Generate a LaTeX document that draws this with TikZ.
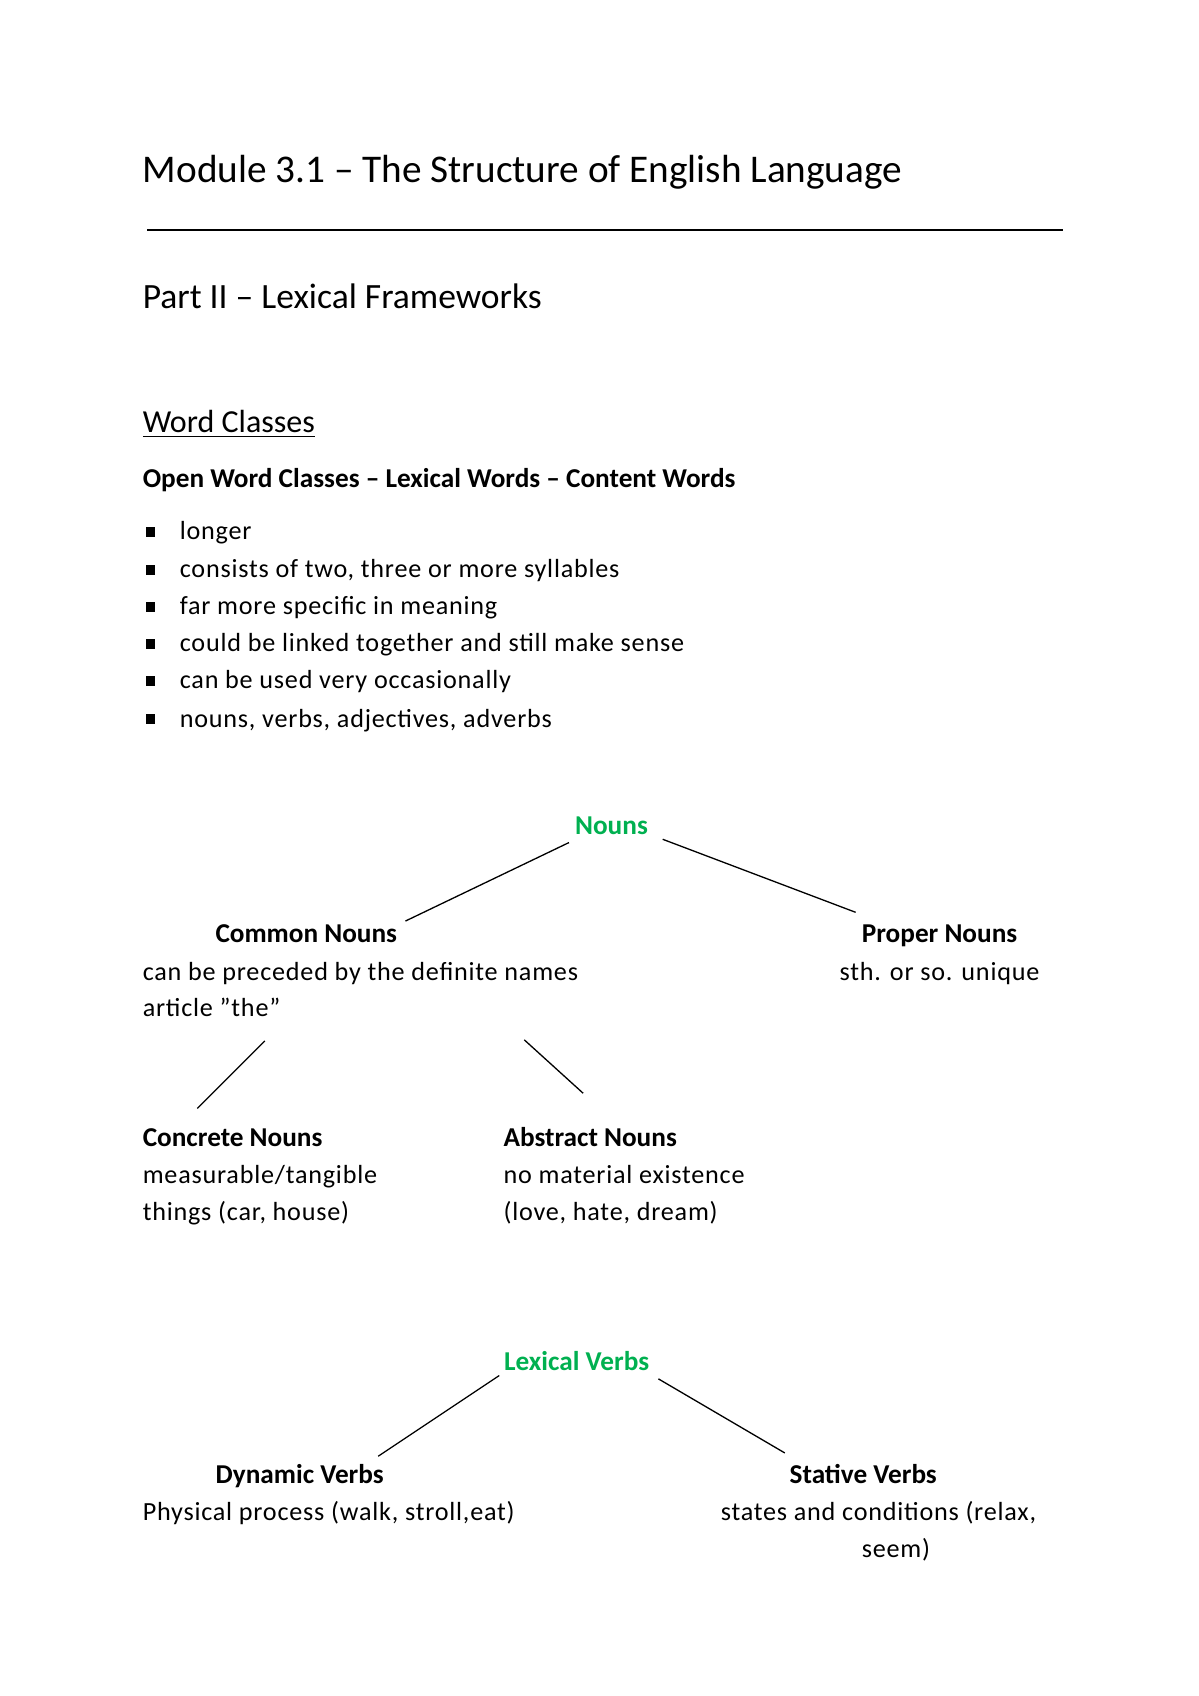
\documentclass[tikz,border=0pt]{standalone}
\usepackage{fontspec}
\setmainfont{Carlito}
\newfontfamily\spaced[LetterSpace=3]{Carlito}
\usepackage{xcolor}
\definecolor{grn}{HTML}{00B050}
\begin{document}
\begin{tikzpicture}[x=0.5pt,y=-0.5pt,
  every node/.style={inner sep=0pt,outer sep=0pt},
  body/.style={font=\spaced\fontsize{12}{14}\selectfont,anchor=base},
  bodyl/.style={body,anchor=base west},
  head/.style={font=\fontsize{12.5}{14}\selectfont\bfseries,anchor=base},
  grnhead/.style={head,text=grn},
  conn/.style={line width=0.6pt}]
\useasboundingbox (0,0) rectangle (1100,1556);
\node[anchor=base west,font=\fontsize{18}{20}\selectfont] (title) at (131,167) {Module 3.1 – The Structure of English Language};
\coordinate (r1) at (135,211); \coordinate (r2) at (975,211);
\draw[line width=0.6pt] (r1) -- (r2);
\node[anchor=base west,font=\fontsize{16.3}{18}\selectfont] (part) at (131,283) {Part II – Lexical Frameworks};
\node[anchor=base west,font=\fontsize{14.7}{16}\selectfont] (wc) at (131,397) {\underline{Word Classes}};
\node[head,anchor=base west] (owc) at (131,447) {Open Word Classes – Lexical Words – Content Words};
\foreach \y/\t [count=\i] in {488/longer,523/{consists of two, three or more syllables},557/far more specific in meaning,591/could be linked together and still make sense,625/can be used very occasionally,660/{nouns, verbs, adjectives, adverbs}}{
  \node[fill=black,minimum size=4.5pt] (b\i) at (138,\y) {};
  \node[bodyl] (t\i) at (165,\y+7) {\t};
}
\node[grnhead] (nouns) at (561,766) {Nouns};
\node[head] (common) at (281,865) {Common Nouns};
\node[bodyl] (cd1) at (131,900) {can be preceded by the definite names};
\node[bodyl] (cd2) at (131,933) {article ”the”};
\node[head] (proper) at (862,865) {Proper Nouns};
\node[body] (pd) at (862,900) {sth. or so. unique};
\node[head,anchor=base west] (concrete) at (131,1052) {Concrete Nouns};
\node[bodyl] (co1) at (131,1086) {measurable/tangible};
\node[bodyl] (co2) at (131,1120) {things (car, house)};
\node[head,anchor=base west] (abstract) at (462,1052) {Abstract Nouns};
\node[bodyl] (ab1) at (462,1086) {no material existence};
\node[bodyl] (ab2) at (462,1120) {(love, hate, dream)};
\node[grnhead] (lv) at (529,1257) {Lexical Verbs};
\node[head] (dyn) at (275,1361) {Dynamic Verbs};
\node[bodyl] (dd) at (131,1395) {Physical process (walk, stroll,eat)};
\node[head] (stat) at (792,1361) {Stative Verbs};
\node[body] (sd1) at (806,1395) {states and conditions (relax,};
\node[body] (sd2) at (822,1429) {seem)};
\coordinate (a1) at (522,773); \coordinate (a2) at (372,845);
\coordinate (b1) at (608,770); \coordinate (b2) at (785,837);
\coordinate (c1) at (243,955); \coordinate (c2) at (181,1017);
\coordinate (d1) at (481,954); \coordinate (d2) at (535,1003);
\coordinate (e1) at (458,1262); \coordinate (e2) at (347,1336);
\coordinate (f1) at (604,1265); \coordinate (f2) at (720,1333);
\draw[conn] (a1) -- (a2);
\draw[conn] (b1) -- (b2);
\draw[conn] (c1) -- (c2);
\draw[conn] (d1) -- (d2);
\draw[conn] (e1) -- (e2);
\draw[conn] (f1) -- (f2);
\end{tikzpicture}
\end{document}
